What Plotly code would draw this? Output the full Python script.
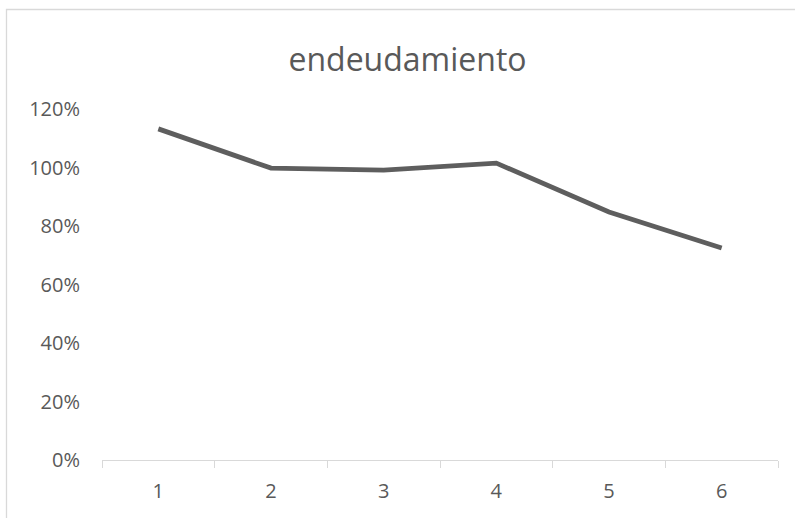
import plotly.graph_objects as go

# Debt ratio per period
periods = ["1", "2", "3", "4", "5", "6"]
endeudamiento = [1.132, 0.998, 0.991, 1.015, 0.848, 0.725]
y_ticks = [0, 0.2, 0.4, 0.6, 0.8, 1.0, 1.2]

TEXT = "#595959"
AXIS = "#d9d9d9"
FONT = "Open Sans"

W, H = 795, 518
ML, MR, MT, MB = 102, 17, 109, 58
PW, PH = W - ML - MR, H - MT - MB

fig = go.Figure(
    go.Scatter(
        x=periods,
        y=endeudamiento,
        mode="lines",
        line=dict(color="#5e5e5e", width=4.8),
        hoverinfo="skip",
    )
)

# Chart-area frame
fig.add_shape(
    type="rect",
    xref="paper", yref="paper",
    x0=(6.5 - ML) / PW, x1=(W + 5 - ML) / PW,
    y0=-0.5, y1=1 + (MT - 9.5) / PH,
    line=dict(color=AXIS, width=1.3),
    layer="below",
)

fig.update_layout(
    width=W, height=H,
    margin=dict(l=ML, r=MR, t=MT, b=MB),
    paper_bgcolor="white",
    plot_bgcolor="white",
    showlegend=False,
    font=dict(family=FONT, color=TEXT, size=19),
    title=dict(
        text="endeudamiento",
        font=dict(family=FONT, size=32, color=TEXT),
        x=(407.5 - ML) / PW, xref="paper", xanchor="center",
        y=1 - 60 / H, yref="container", yanchor="middle",
    ),
    xaxis=dict(
        type="category",
        range=[-0.5, len(periods) - 0.5],
        tickson="boundaries",
        ticks="outside", ticklen=7, tickwidth=1.3, tickcolor=AXIS,
        showline=True, linecolor=AXIS, linewidth=1.3,
        showgrid=False, zeroline=False,
        tickfont=dict(family=FONT, size=20, color=TEXT),
        ticklabelstandoff=13,
    ),
    yaxis=dict(
        range=[0, 1.2],
        tickvals=y_ticks,
        tickformat=".0%",
        showline=False, showgrid=False, zeroline=False,
        ticks="",
        tickfont=dict(family=FONT, size=20, color=TEXT),
        ticklabelstandoff=21,
    ),
)

fig.write_html("out.html")
